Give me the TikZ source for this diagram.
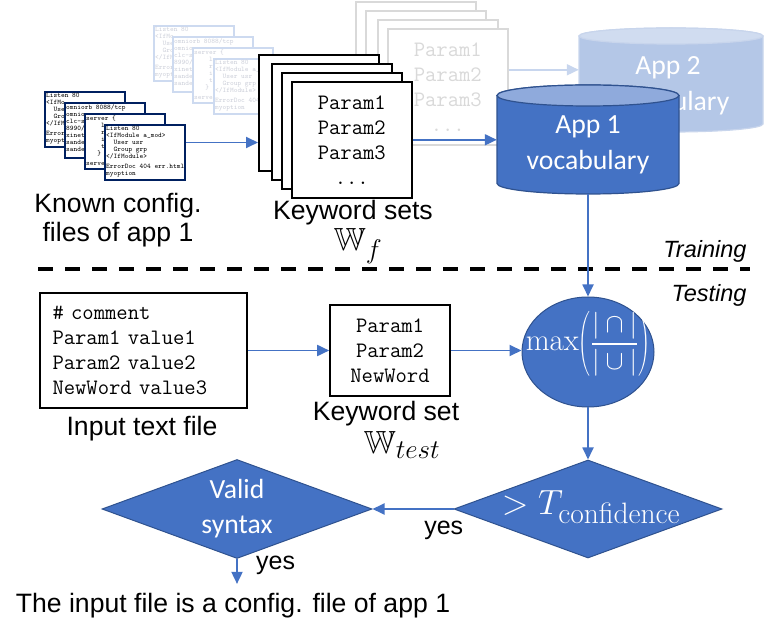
\RequirePackage{fix-cm}
\documentclass[tikz,border=0pt]{standalone}
\usepackage{amsmath,amssymb,graphicx}
\usepackage[no-math]{fontspec}
\setmainfont{Liberation Sans}
\newfontfamily\calibri{Carlito}
\newcommand{\lmroman}{\fontfamily{lmr}\selectfont}
\newcommand{\slimparen}[1]{\scalebox{0.6}[1]{$#1$}}
\usepackage{tikz}
\usetikzlibrary{positioning,arrows.meta,shapes.geometric}
\definecolor{boxblue}{RGB}{68,114,196}
\definecolor{borderblue}{RGB}{47,82,143}
\definecolor{toplight}{RGB}{143,170,220}
\definecolor{navy}{RGB}{0,32,96}
\definecolor{fadeblue}{RGB}{205,218,240}
\definecolor{fadetext}{RGB}{205,208,218}
\definecolor{fadegray}{RGB}{217,217,217}
\definecolor{fadearrow}{RGB}{200,214,238}
\definecolor{apptwobody}{RGB}{180,199,231}
\definecolor{apptwotop}{RGB}{208,220,240}
\definecolor{apptwoedge}{RGB}{200,213,236}
% what shows of each small config file
\newcommand{\cfgtxtA}{Listen 80\\<IfMo\\\ \ Use\\\ \ Gro\\</IfM\\[3pt]Error\\myopt}
\newcommand{\cfgtxtB}{omniorb 8088/tcp\\omnio\\clc-s\\8990/\\xinet\\sande\\sande}
\newcommand{\cfgtxtC}{server \{\\\ \ \ \ l\\\ \ \ \ r\\\ \ \ \ i\\\ \ \ \ t\\\ \ \ \}\\[3pt]serve}
\newcommand{\cfgtxtD}{Listen 80\\<IfModule a\_mod>\\\ \ User usr\\\ \ Group grp\\</IfModule>\\[3pt]ErrorDoc 404 err.html\\myoption}
\tikzset{
  cfgfile/.style={rectangle,draw=navy,line width=2pt,fill=white,anchor=north west,minimum width=80pt,minimum height=55pt,inner sep=0pt},
  cfgtext/.style={anchor=north west,inner sep=2pt,align=left,font=\ttfamily\fontsize{7}{7}\selectfont},
  kwbox/.style={rectangle,draw=black,line width=1.6pt,fill=white,anchor=north west,minimum width=120pt,minimum height=116pt},
  kwtext/.style={align=center,font=\ttfamily\fontsize{22}{25}\selectfont},
  cylholder/.style={rectangle,inner sep=0pt},
  cyltext/.style={align=center,text=white,font=\calibri\fontsize{27.7}{36}\selectfont},
  capt/.style={align=center,font=\fontsize{26.6}{29}\selectfont},
  setname/.style={inner sep=0pt,font=\fontsize{32}{36}\selectfont},
  phase/.style={anchor=east,font=\itshape\fontsize{23.5}{28}\selectfont},
  flowarrow/.style={draw=boxblue,line width=1.8pt,-{Triangle[length=12pt,width=11pt]}},
  decision/.style={diamond,aspect=2.7,fill=boxblue,draw=borderblue,line width=1pt,inner sep=0pt}
}
\begin{document}
\begin{tikzpicture}[x=1pt,y=-1pt]
\useasboundingbox (0,0) rectangle (764,636);

% faded copy (app 2)
\foreach \i/\x/\y/\txt in {1/153/25/\cfgtxtA,2/172/36/\cfgtxtB,3/192/47/\cfgtxtC,4/213/58/\cfgtxtD}{
  \node[cfgfile,draw=fadeblue] (f\i) at (\x,\y) {};
  \node[cfgtext,text=fadetext] (ft\i) at (f\i.north west) {\txt};
}
\foreach \i/\x/\y in {1/355/1,2/365/10,3/377/19,4/387/28}
  \node[kwbox,draw=fadegray] (g\i) at (\x,\y) {};
\node[kwtext,text=fadegray] (gt) at (g4.center) {Param1\\Param2\\Param3\\...};
\node[cylholder,minimum width=184pt,minimum height=104pt] (app2) at (671,80) {};
\filldraw[fill=apptwobody,draw=apptwoedge,line width=1.2pt] (579,36) -- (579,124)
  arc[start angle=180,end angle=360,x radius=92pt,y radius=8pt] -- (763,36)
  arc[start angle=0,end angle=180,x radius=92pt,y radius=8pt] -- cycle;
\filldraw[fill=apptwotop,draw=apptwoedge,line width=1.2pt] (671,36) ellipse [x radius=92pt,y radius=8pt];
\node[cyltext] (app2t) at (668,86) {App 2\\vocabulary};
\draw[flowarrow,draw=fadearrow] ([yshift=17pt]g4.east) -- ([yshift=17pt]g4.east -| app2.west);

% training (app 1)
\foreach \i/\x/\y/\txt in {1/44/91/\cfgtxtA,2/64/102/\cfgtxtB,3/84/113/\cfgtxtC,4/104/124/\cfgtxtD}{
  \node[cfgfile] (c\i) at (\x,\y) {};
  \node[cfgtext] (ct\i) at (c\i.north west) {\txt};
}
\node[capt] (knownlbl) at (118,220) {Known config.\\files of app 1};
\foreach \i/\x/\y in {1/258/54,2/271/63,3/281/72,4/291/81}
  \node[kwbox] (k\i) at (\x,\y) {};
\node[kwtext] (kt) at (k4.center) {Param1\\Param2\\Param3\\...};
\node[capt,inner sep=0pt] (kwlbl) at (353,213) {Keyword sets};
\node[setname] (wf) at (358,246) {$\mathbb{W}_{\mbox{\fontsize{27}{30}\selectfont$f$}}$};
\node[cylholder,minimum width=182pt,minimum height=109pt] (app1) at (588,139.5) {};
\filldraw[fill=boxblue,draw=borderblue,line width=1.2pt] (497,95.5) -- (497,183.5)
  arc[start angle=180,end angle=360,x radius=91pt,y radius=10.5pt] -- (679,95.5)
  arc[start angle=0,end angle=180,x radius=91pt,y radius=10.5pt] -- cycle;
\filldraw[fill=toplight,draw=borderblue,line width=1.2pt] (588,95.5) ellipse [x radius=91pt,y radius=10.5pt];
\node[cyltext] (app1t) at (588,145) {App 1\\vocabulary};
\draw[flowarrow] ([yshift=10pt]c4.east) -- ([yshift=10pt]c4.east -| k1.west);
\draw[flowarrow] (k4.east) -- (k4.east -| app1.west);

% separator
\coordinate (sepl) at (38,269);
\coordinate (sepr) at (750,269);
\draw[line width=4pt,dash pattern=on 15pt off 12pt] (sepl) -- (sepr);
\node[phase] (train) at (750,251) {Training};
\node[phase] (test) at (750,295) {Testing};

% testing
\node[rectangle,draw=black,line width=1.6pt,text width=182pt,inner xsep=12.5pt,minimum height=115pt,align=left,
  font=\ttfamily\fontsize{22}{25}\selectfont] (infile) at (143.5,350.5) {\#\ comment\\Param1 value1\\Param2 value2\\NewWord value3};
\node[capt] (inlbl) at (142,429) {Input text file};
\node[rectangle,draw=black,line width=1.6pt,minimum width=120pt,minimum height=91pt,kwtext] (kwset) at (390,350.5) {Param1\\Param2\\NewWord};
\node[capt,inner sep=0pt] (kwsetlbl) at (386,414) {Keyword set};
\node[setname] (wtest) at (402,445) {$\mathbb{W}_{\mbox{\fontsize{27}{30}\selectfont$test$}}$};
\node[ellipse,fill=boxblue,draw=borderblue,line width=1pt,minimum width=132pt,minimum height=110pt,inner sep=0pt] (score) at (588,352) {};
\node[text=white,inner sep=0pt,font=\fontsize{27}{30}\selectfont] (scoret) at (588,344)
  {{\lmroman\fontsize{31}{34}\selectfont max}\slimparen{\biggl(}$\displaystyle\frac{|\cap|}{|\cup|}$\slimparen{\biggr)}};
\node[decision,minimum width=268pt,minimum height=98pt] (thr) at (588,509) {};
\node[text=white,font=\fontsize{35}{40}\selectfont] (thrt) at (591,507) {$>T_{\mbox{\fontsize{29.5}{32}\selectfont\lmroman confidence}}$};
\node[decision,minimum width=270pt,minimum height=99pt,text=white,align=center,font=\calibri\fontsize{27.7}{35}\selectfont] (valid) at (237,509) {Valid\\syntax};
\node[capt,inner ysep=9.5pt] (result) at (233,606) {The input file is a config. file of app 1};

\draw[flowarrow] (app1.south) -- (score.north);
\draw[flowarrow] (infile.east) -- (infile.east -| kwset.west);
\draw[flowarrow] (kwset.east) -- (kwset.east -| score.west);
\draw[flowarrow] (score.south) -- (thr.north);
\draw[flowarrow] (thr.west) -- node[pos=0.12,below=8pt,font=\fontsize{25}{28}\selectfont] (yesa) {yes} (valid.east);
\draw[flowarrow] (valid.south) -- node[pos=0.27,right=15pt,font=\fontsize{25}{28}\selectfont] (yesb) {yes} (valid.south |- result.north);
\end{tikzpicture}
\end{document}
